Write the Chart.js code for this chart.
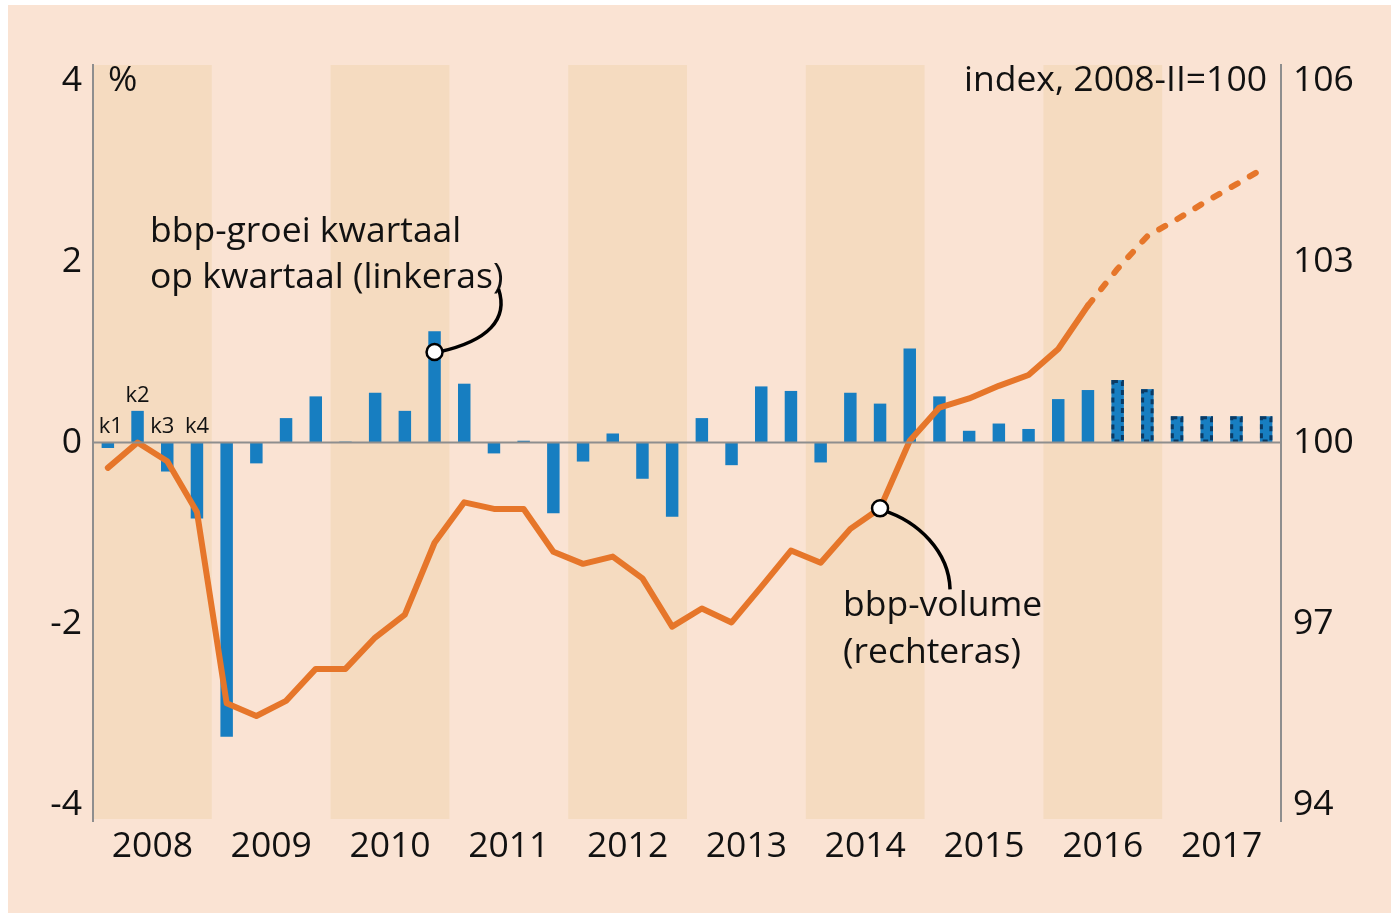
<!DOCTYPE html>
<html>
<head>
<meta charset="utf-8">
<script src="https://cdn.jsdelivr.net/npm/chart.js@4"></script>
<style>
  html, body { margin: 0; padding: 0; background: #ffffff; }
  #wrap { position: absolute; left: 0; top: 0; width: 1391px; height: 913px; }
</style>
</head>
<body>
<div id="wrap"><canvas id="bbpChart"></canvas></div>
<script>
// kwartalen 2008-k1 .. 2017-k4
const years = ['2008', '2009', '2010', '2011', '2012', '2013', '2014', '2015', '2016', '2017'];
const quarters = [];
years.forEach(y => { for (let k = 1; k <= 4; k++) quarters.push(y + '-k' + k); });

// bbp-groei kwartaal op kwartaal (%), linkeras
const groei = [-0.06, 0.35, -0.32, -0.84, -3.25, -0.23, 0.27, 0.51,
  0.01, 0.55, 0.35, 1.23, 0.65, -0.12, 0.02, -0.78,
  -0.21, 0.10, -0.40, -0.82, 0.27, -0.25, 0.62, 0.57,
  -0.22, 0.55, 0.43, 1.04, 0.51, 0.13, 0.21, 0.15,
  0.48, 0.58, 0.69, 0.59, 0.29, 0.29, 0.29, 0.29];

// bbp-volume, index 2008-II=100, rechteras
const volume = [99.58, 100.0, 99.69, 98.85, 95.68, 95.47, 95.72, 96.25,
  96.25, 96.77, 97.15, 98.34, 99.01, 98.90, 98.90, 98.19,
  97.99, 98.11, 97.75, 96.95, 97.25, 97.02, 97.61, 98.21,
  98.01, 98.57, 98.91, 100.03, 100.58, 100.73, 100.94, 101.12,
  101.55, 102.27, 102.88, 103.42, 103.70, 104.00, 104.28, 104.57];

const leftTicks = [-4, -2, 0, 2, 4];
const rightTicks = [94, 97, 100, 103, 106];
const shadedYears = [0, 2, 4, 6, 8];   // index in years
const firstForecastBar = 34;            // 2016-k3
const firstForecastLine = 33;           // stippellijn vanaf 2016-k2
const kLabels = ['k1', 'k2', 'k3', 'k4'];

const FONT = "'Open Sans', 'Noto Sans', sans-serif";
const FS = 35.5;
const INK = '#111111';
const BLUE = '#177ec1';
const ORANGE = '#e6762a';
const GRAY = '#8e8e8e';

const decor = {
  id: 'decor',
  beforeDraw(chart) {
    const { ctx, chartArea: a } = chart;
    const xy = chart.scales.xYear;
    ctx.save();
    ctx.fillStyle = '#ffffff';
    ctx.fillRect(0, 0, chart.width, chart.height);
    ctx.fillStyle = '#fae3d3';
    ctx.fillRect(8, 5, chart.width - 8, chart.height - 5);
    ctx.fillStyle = '#f5dbc0';
    shadedYears.forEach(i => {
      const x0 = xy.getPixelForValue(i), x1 = xy.getPixelForValue(i + 1);
      ctx.fillRect(x0, a.top, x1 - x0, a.bottom - a.top - 2);
    });
    ctx.restore();
  },
  afterDatasetsDraw(chart) {
    const { ctx, chartArea: a } = chart;
    const x = chart.scales.x, yl = chart.scales.yL, yr = chart.scales.yR;
    ctx.save();

    // stippelrand voor ramingen
    const meta = chart.getDatasetMeta(0);
    ctx.strokeStyle = '#0b3a63';
    ctx.lineWidth = 3;
    ctx.setLineDash([5, 4]);
    for (let i = firstForecastBar; i < groei.length; i++) {
      const b = meta.data[i];
      const w = b.width;
      const top = Math.min(b.y, b.base), h = Math.abs(b.base - b.y);
      ctx.strokeRect(b.x - w / 2 + 1.5, top + 1.5, w - 3, h - 3);
    }
    ctx.setLineDash([]);

    // nullijn
    const y0 = yl.getPixelForValue(0);
    ctx.strokeStyle = GRAY;
    ctx.lineWidth = 2;
    ctx.beginPath();
    ctx.moveTo(a.left, y0);
    ctx.lineTo(a.right, y0);
    ctx.stroke();

    // teksten
    ctx.fillStyle = INK;
    ctx.textBaseline = 'middle';
    ctx.font = FS + 'px ' + FONT;
    ctx.textAlign = 'left';
    ctx.fillText('%', 108, 81);
    ctx.textAlign = 'right';
    ctx.fillText('index, 2008-II=100', a.right - 14, 81);
    ctx.textAlign = 'left';
    ctx.fillText('bbp-groei kwartaal', 150, 232);
    ctx.fillText('op kwartaal (linkeras)', 150, 278);
    ctx.fillText('bbp-volume', 843, 606);
    ctx.fillText('(rechteras)', 843, 653);

    ctx.font = '22px ' + FONT;
    ctx.textAlign = 'center';
    const kOff = [3, 0, -5, 0];
    kLabels.forEach((t, i) => {
      const px = x.getPixelForValue(i) + kOff[i];
      const py = groei[i] > 0 ? yl.getPixelForValue(groei[i]) - 15 : y0 - 16;
      ctx.fillText(t, px, py);
    });

    // verwijslijnen
    const c1x = x.getPixelForValue(11), c1y = yl.getPixelForValue(1.0);
    const c2x = x.getPixelForValue(26), c2y = yr.getPixelForValue(volume[26]);
    ctx.strokeStyle = '#000';
    ctx.lineWidth = 3.5;
    ctx.beginPath();
    ctx.moveTo(c1x + 64, c1y - 63);
    ctx.bezierCurveTo(c1x + 74, c1y - 33, c1x + 54, c1y - 11, c1x + 4, c1y);
    ctx.stroke();
    ctx.beginPath();
    ctx.moveTo(c2x + 3, c2y + 2);
    ctx.bezierCurveTo(c2x + 38, c2y + 13, c2x + 69, c2y + 43, c2x + 70, c2y + 81);
    ctx.stroke();
    [[c1x, c1y], [c2x, c2y]].forEach(([cx, cy]) => {
      ctx.beginPath();
      ctx.arc(cx, cy, 8, 0, Math.PI * 2);
      ctx.fillStyle = '#ffffff';
      ctx.fill();
      ctx.lineWidth = 2.5;
      ctx.stroke();
    });
    ctx.restore();
  }
};

new Chart(document.getElementById('bbpChart'), {
  data: {
    labels: quarters,
    datasets: [
      {
        type: 'bar', data: groei, yAxisID: 'yL', xAxisID: 'x',
        backgroundColor: BLUE, barPercentage: 0.42, categoryPercentage: 1, order: 2
      },
      {
        type: 'line', data: volume, yAxisID: 'yR', xAxisID: 'x',
        borderColor: ORANGE, borderWidth: 6, pointRadius: 0, tension: 0,
        borderCapStyle: 'round', borderJoinStyle: 'round', order: 1,
        segment: { borderDash: ctx => ctx.p0DataIndex >= firstForecastLine ? [7, 14] : undefined }
      }
    ]
  },
  options: {
    responsive: true,
    maintainAspectRatio: false,
    animation: false,
    devicePixelRatio: 1,
    layout: { padding: { top: 65, left: 0, right: 0, bottom: 0 } },
    plugins: { legend: { display: false }, tooltip: { enabled: false } },
    scales: {
      x: { type: 'category', display: false, offset: true },
      xYear: {
        type: 'linear', position: 'bottom', min: 0, max: 10, offset: false,
        grid: { display: false, drawTicks: false }, border: { display: false },
        afterBuildTicks: s => { s.ticks = years.map((y, i) => ({ value: i + 0.5 })); },
        afterFit: s => { s.height = 92; },
        ticks: {
          padding: 5, color: INK, font: { family: FONT, size: FS },
          autoSkip: false, maxRotation: 0,
          callback: (v) => years[Math.floor(v)]
        }
      },
      yL: {
        type: 'linear', position: 'left', min: -4.18, max: 4.17,
        grid: { display: false, drawTicks: false },
        border: { display: true, color: GRAY, width: 2 },
        afterBuildTicks: s => { s.ticks = leftTicks.map(v => ({ value: v })); },
        afterFit: s => { s.width = 93; },
        ticks: { padding: 11, color: INK, font: { family: FONT, size: FS } }
      },
      yR: {
        type: 'linear', position: 'right', min: 93.73, max: 106.255,
        grid: { display: false, drawTicks: false },
        border: { display: true, color: GRAY, width: 2 },
        afterBuildTicks: s => { s.ticks = rightTicks.map(v => ({ value: v })); },
        afterFit: s => { s.width = 110; },
        ticks: { padding: 12, color: INK, font: { family: FONT, size: FS } }
      }
    }
  },
  plugins: [decor]
});
</script>
</body>
</html>
